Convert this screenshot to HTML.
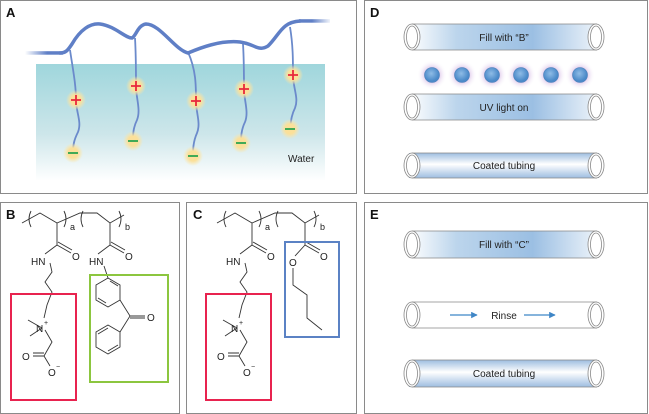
<!DOCTYPE html>
<html><head><meta charset="utf-8"><style>
body{margin:0;background:#fff;}
svg{display:block;font-family:"Liberation Sans",sans-serif;}
</style></head><body>
<svg width="649" height="414" viewBox="0 0 649 414" xmlns="http://www.w3.org/2000/svg">
<defs>
<linearGradient id="water" x1="0" y1="0" x2="0" y2="1">
<stop offset="0" stop-color="#9fd6dc"/><stop offset="0.6" stop-color="#cde6ea"/><stop offset="1" stop-color="#fff"/></linearGradient>
<radialGradient id="glow"><stop offset="0.5" stop-color="#fbe09a"/><stop offset="1" stop-color="#fde7a6" stop-opacity="0"/></radialGradient>
<radialGradient id="uv"><stop offset="0.3" stop-color="#c9a5dd"/><stop offset="1" stop-color="#fff" stop-opacity="0"/></radialGradient>
<radialGradient id="ball" cx="0.45" cy="0.4"><stop offset="0" stop-color="#8fbce6"/><stop offset="1" stop-color="#4a89c8"/></radialGradient>
<linearGradient id="fillh" x1="0" y1="0" x2="1" y2="0">
<stop offset="0" stop-color="#fff"/><stop offset="0.25" stop-color="#bcd5ec"/><stop offset="0.65" stop-color="#9bbfe3"/><stop offset="1" stop-color="#eef4fa"/></linearGradient>
<linearGradient id="coat" x1="0" y1="0" x2="0" y2="1">
<stop offset="0" stop-color="#9dbde0"/><stop offset="0.45" stop-color="#fff"/><stop offset="1" stop-color="#9dbde0"/></linearGradient>
<linearGradient id="fade" gradientUnits="userSpaceOnUse" x1="25" y1="0" x2="62" y2="0"><stop offset="0" stop-color="#5f7fc6" stop-opacity="0"/><stop offset="0.6" stop-color="#5f7fc6"/></linearGradient>
<linearGradient id="fade2" gradientUnits="userSpaceOnUse" x1="300" y1="0" x2="330" y2="0"><stop offset="0.4" stop-color="#5f7fc6"/><stop offset="1" stop-color="#5f7fc6" stop-opacity="0.1"/></linearGradient>
<marker id="arr" viewBox="0 0 10 10" refX="9" refY="5" markerWidth="5" markerHeight="5" orient="auto"><path d="M0,0 L10,5 L0,10 z" fill="#3f86c6"/></marker>
</defs>

<g fill="none" stroke="#8a8a8a" stroke-width="1">
<rect x="0.5" y="0.5" width="356" height="193"/>
<rect x="364.5" y="0.5" width="283" height="193"/>
<rect x="0.5" y="202.5" width="179" height="211"/>
<rect x="186.5" y="202.5" width="170" height="211"/>
<rect x="364.5" y="202.5" width="283" height="211"/>
</g>
<g font-weight="bold" font-size="13" fill="#111">
<text x="6" y="17">A</text><text x="370" y="17">D</text>
<text x="6" y="219">B</text><text x="193" y="219">C</text><text x="370" y="219">E</text>
</g>

<!-- Panel A -->
<rect x="36" y="64" width="289" height="117" fill="url(#water)"/>
<g stroke="#6b8acb" stroke-width="1.8" fill="none">
<path d="M70,50 C73,70 76,85 76,100 C76,112 82,122 78,132 C74,140 73,145 73,153"/>
<path d="M135,38 C136,55 136,70 136,86 C136,98 141,110 137,120 C133,128 133,135 133,141"/>
<path d="M188,52 C196,70 196,85 196,101 C196,113 201,123 197,133 C193,142 193,150 193,156"/>
<path d="M243,44 C244,60 244,75 244,89 C244,100 249,112 245,122 C241,130 241,138 241,143"/>
<path d="M290,27 C293,45 293,60 293,75 C293,88 299,98 295,108 C291,116 291,122 290,129"/>
</g>
<path d="M60,53 C66,53 68,50 72,44 C80,30 90,23 100,24 C115,26 125,38 132,38 C136,36 138,25 146,24 C160,24 175,50 188,53 C200,48 220,40 240,42 C255,44 258,52 268,46 C280,34 282,22 300,21" stroke="#5f7fc6" stroke-width="3.5" fill="none" stroke-linecap="round"/>
<rect x="25" y="51.2" width="38" height="3.5" fill="url(#fade)"/>
<rect x="299" y="19.2" width="31" height="3.5" fill="url(#fade2)"/>
<g fill="url(#glow)">
<circle cx="76" cy="100" r="10"/><circle cx="73" cy="153" r="10"/>
<circle cx="136" cy="86" r="10"/><circle cx="133" cy="141" r="10"/>
<circle cx="196" cy="101" r="10"/><circle cx="193" cy="156" r="10"/>
<circle cx="244" cy="89" r="10"/><circle cx="241" cy="143" r="10"/>
<circle cx="293" cy="75" r="10"/><circle cx="290" cy="129" r="10"/>
</g>
<g stroke="#e8283c" stroke-width="1.8">
<path d="M71,100h10M76,95v10"/><path d="M131,86h10M136,81v10"/><path d="M191,101h10M196,96v10"/><path d="M239,89h10M244,84v10"/><path d="M288,75h10M293,70v10"/>
</g>
<g stroke="#2ea44f" stroke-width="1.8">
<path d="M68,153h10"/><path d="M128,141h10"/><path d="M188,156h10"/><path d="M236,143h10"/><path d="M285,129h10"/>
</g>
<text x="288" y="162" font-size="10" fill="#222">Water</text>

<!-- Tubes -->
<rect x="409" y="24" width="190" height="26" fill="url(#fillh)"/>
<rect x="409" y="94" width="190" height="26" fill="url(#fillh)"/>
<rect x="409" y="153" width="190" height="25" fill="url(#coat)"/>
<rect x="409" y="231" width="190" height="27" fill="url(#fillh)"/>
<rect x="409" y="360" width="190" height="27" fill="url(#coat)"/>
<g fill="none" stroke="#888" stroke-width="0.8">
<path d="M412,24H597M412,50H597"/><path d="M412,94H597M412,120H597"/><path d="M412,153H597M412,178H597"/>
<path d="M412,231H597M412,258H597"/><path d="M412,302H597M412,328H597"/><path d="M412,360H597M412,387H597"/>
</g>
<g fill="#fff" stroke="#888" stroke-width="0.8">
<g><ellipse cx="412" cy="37" rx="8" ry="13"/><ellipse cx="412" cy="37" rx="5.5" ry="11"/><ellipse cx="596" cy="37" rx="8" ry="13"/><ellipse cx="596" cy="37" rx="5.5" ry="11"/></g>
<g><ellipse cx="412" cy="107" rx="8" ry="13"/><ellipse cx="412" cy="107" rx="5.5" ry="11"/><ellipse cx="596" cy="107" rx="8" ry="13"/><ellipse cx="596" cy="107" rx="5.5" ry="11"/></g>
<g><ellipse cx="412" cy="165.5" rx="8" ry="12.5"/><ellipse cx="412" cy="165.5" rx="5.5" ry="10.5"/><ellipse cx="596" cy="165.5" rx="8" ry="12.5"/><ellipse cx="596" cy="165.5" rx="5.5" ry="10.5"/></g>
<g><ellipse cx="412" cy="244.5" rx="8" ry="13.5"/><ellipse cx="412" cy="244.5" rx="5.5" ry="11.5"/><ellipse cx="596" cy="244.5" rx="8" ry="13.5"/><ellipse cx="596" cy="244.5" rx="5.5" ry="11.5"/></g>
<g><ellipse cx="412" cy="315" rx="8" ry="13"/><ellipse cx="412" cy="315" rx="5.5" ry="11"/><ellipse cx="596" cy="315" rx="8" ry="13"/><ellipse cx="596" cy="315" rx="5.5" ry="11"/></g>
<g><ellipse cx="412" cy="373.5" rx="8" ry="13.5"/><ellipse cx="412" cy="373.5" rx="5.5" ry="11.5"/><ellipse cx="596" cy="373.5" rx="8" ry="13.5"/><ellipse cx="596" cy="373.5" rx="5.5" ry="11.5"/></g>
</g>
<g font-size="10" fill="#222" text-anchor="middle">
<text x="504" y="41">Fill with “B”</text>
<text x="504" y="111">UV light on</text>
<text x="504" y="169">Coated tubing</text>
<text x="504" y="248">Fill with “C”</text>
<text x="504" y="319">Rinse</text>
<text x="504" y="377">Coated tubing</text>
</g>
<g fill="url(#uv)"><circle cx="432" cy="75" r="15"/><circle cx="462" cy="75" r="15"/><circle cx="492" cy="75" r="15"/><circle cx="521" cy="75" r="15"/><circle cx="551" cy="75" r="15"/><circle cx="580" cy="75" r="15"/></g>
<g fill="url(#ball)" stroke="#4a7fb8" stroke-width="0.6"><circle cx="432" cy="75" r="7.5"/><circle cx="462" cy="75" r="7.5"/><circle cx="492" cy="75" r="7.5"/><circle cx="521" cy="75" r="7.5"/><circle cx="551" cy="75" r="7.5"/><circle cx="580" cy="75" r="7.5"/></g>
<g stroke="#3f86c6" stroke-width="1.3" marker-end="url(#arr)">
<line x1="450" y1="315" x2="477" y2="315"/><line x1="524" y1="315" x2="555" y2="315"/>
</g>

<!-- Panel B -->
<g stroke="#333" stroke-width="0.9" fill="none">
<path d="M22,223 L40,213 L57,223 L80,213 L97,213 L110,223 L124,215"/>
<path d="M31,211 q-4,8 0,16 M64,211 q4,8 0,16 M83,211 q-4,8 0,16 M119,211 q4,8 0,16"/>
<path d="M57,223 V245 L45,254 M57,245 L71,253 M58,242 L72,250"/>
<path d="M50,263 L52,272 L45,282 L52,292 L47,305 L44,318 M42,328 L28,320 M42,328 L30,336 M45,330 L52,342 L44,356 L33,356 M44,353 L33,353 M44,356 L50,366"/>
<path d="M110,223 V245 L98,254 M110,245 L124,253 M111,242 L125,250"/>
<path d="M104,266 L108,278"/>
<path d="M108,278 L120,285 L120,300 L108,307 L96,300 L96,285 Z M110,281 L118,286 M98,298 L106,303"/>
<path d="M120,300 L130,316 L120,332 M130,316 L145,316 M130,318 L145,318"/>
<path d="M120,332 L120,347 L108,354 L96,347 L96,332 L108,325 Z M118,345 L108,351 M98,334 L108,328"/>
</g>
<g font-size="10" fill="#222">
<text x="70" y="230" font-size="9">a</text><text x="125" y="230" font-size="9">b</text>
<text x="72" y="260">O</text><text x="31" y="265">HN</text>
<text x="36" y="332">N</text><text x="44" y="325" font-size="7">+</text>
<text x="22" y="360">O</text><text x="48" y="376">O</text><text x="56" y="369" font-size="7">−</text>
<text x="125" y="260">O</text><text x="89" y="265">HN</text>
<text x="147" y="321">O</text>
</g>
<rect x="11" y="294" width="65" height="106" fill="none" stroke="#e8234f" stroke-width="2"/>
<rect x="90" y="275" width="78" height="107" fill="none" stroke="#8cc63f" stroke-width="2"/>

<!-- Panel C -->
<g transform="translate(195,0)">
<g stroke="#333" stroke-width="0.9" fill="none">
<path d="M22,223 L40,213 L57,223 L80,213 L97,213 L110,223 L124,215"/>
<path d="M31,211 q-4,8 0,16 M64,211 q4,8 0,16 M83,211 q-4,8 0,16 M119,211 q4,8 0,16"/>
<path d="M57,223 V245 L45,254 M57,245 L71,253 M58,242 L72,250"/>
<path d="M50,263 L52,272 L45,282 L52,292 L47,305 L44,318 M42,328 L28,320 M42,328 L30,336 M45,330 L52,342 L44,356 L33,356 M44,353 L33,353 M44,356 L50,366"/>
<path d="M110,223 V245 L100,256 M110,245 L124,253 M111,242 L125,250"/>
<path d="M98,268 L98,285 L112,295 L112,318 L127,330"/>
</g>
<g font-size="10" fill="#222">
<text x="70" y="230" font-size="9">a</text><text x="125" y="230" font-size="9">b</text>
<text x="72" y="260">O</text><text x="31" y="265">HN</text>
<text x="36" y="332">N</text><text x="44" y="325" font-size="7">+</text>
<text x="22" y="360">O</text><text x="48" y="376">O</text><text x="56" y="369" font-size="7">−</text>
<text x="125" y="260">O</text><text x="94" y="266">O</text>
</g>
<rect x="11" y="294" width="65" height="106" fill="none" stroke="#e8234f" stroke-width="2"/>
<rect x="90" y="242" width="54" height="95" fill="none" stroke="#5b82c4" stroke-width="2"/>
</g>
</svg>
</body></html>
